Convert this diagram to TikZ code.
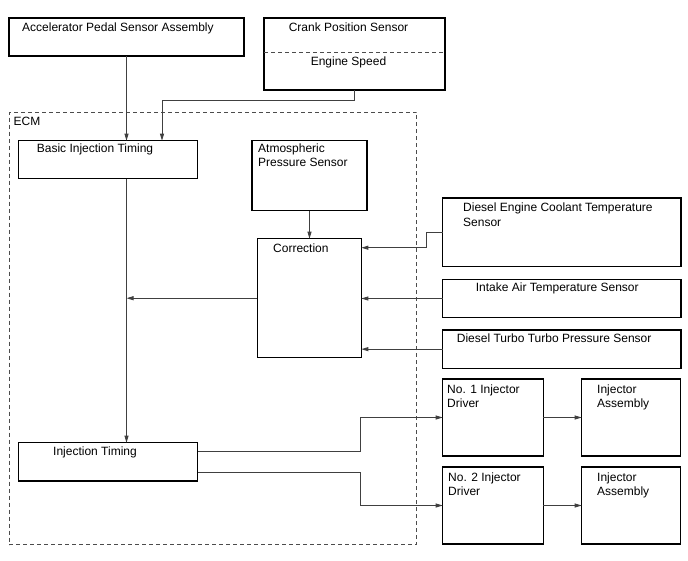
\documentclass[tikz,border=0pt]{standalone}
\usepackage{fontspec}
\setmainfont{Liberation Sans}
\usetikzlibrary{arrows.meta,calc}
\begin{document}
\begin{tikzpicture}[x=1pt,y=-1pt,
  box/.style={draw=black, line width=1.2pt, inner sep=0pt, outer sep=0pt, anchor=north west, fill=white},
  txt/.style={anchor=base west, inner sep=0pt, font=\fontsize{12}{14}\selectfont},
  ctxt/.style={anchor=base, inner sep=0pt, font=\fontsize{12}{14}\selectfont},
  arr/.style={draw=black!75, line width=0.9pt, -{Triangle[length=7pt,width=4pt]}},
  ecmline/.style={draw=black!70, line width=0.8pt, dash pattern=on 4pt off 3pt}]
\useasboundingbox (0,0) rectangle (688,560);
% ECM boundary
\node[ecmline, inner sep=0pt, outer sep=0pt, anchor=north west, minimum width=407.5pt, minimum height=432.5pt] (ecm) at (9,112) {};
\node[txt] (tecm) at (13.5,125.3) {ECM};
% boxes
\node[box, minimum width=235pt, minimum height=38pt] (acc) at (9,18) {};
\node[box, minimum width=181pt, minimum height=72pt] (crank) at (264,18) {};
\node[box, minimum width=179.5pt, minimum height=38pt] (basic) at (18.3,140.7) {};
\node[box, minimum width=115pt, minimum height=70pt] (atm) at (252,140.7) {};
\node[box, minimum width=104pt, minimum height=119pt] (corr) at (257.3,238.7) {};
\node[box, minimum width=179.5pt, minimum height=38.3pt] (it) at (18.3,442.7) {};
\node[box, minimum width=238.3pt, minimum height=68.7pt] (cool) at (442.7,198) {};
\node[box, minimum width=238.3pt, minimum height=37.6pt] (intake) at (442.7,279.7) {};
\node[box, minimum width=238.3pt, minimum height=38.3pt] (turbo) at (442.7,330) {};
\node[box, minimum width=100.6pt, minimum height=77pt] (drv1) at (442.7,379) {};
\node[box, minimum width=99pt, minimum height=77pt] (asm1) at (581.7,379) {};
\node[box, minimum width=100.6pt, minimum height=77pt] (drv2) at (442.7,467) {};
\node[box, minimum width=99pt, minimum height=77pt] (asm2) at (581.7,467) {};
% dashed divider in crank box
\draw[ecmline] ($(crank.north west)+(0,34)$) -- ($(crank.north east)+(0,34)$);
% texts
\node[txt] (tacc) at (22,31.6) {Accelerator Pedal Sensor Assembly};
\node[ctxt] (tcrank) at (348.5,31.6) {Crank Position Sensor};
\node[ctxt] (tspeed) at (348.5,65.6) {Engine Speed};
\node[txt] (tbasic) at (36.7,152.6) {Basic Injection Timing};
\node[txt] (tatm1) at (258,152.6) {Atmospheric};
\node[txt] (tatm2) at (258,166.6) {Pressure Sensor};
\node[txt] (tcorr) at (273,252.6) {Correction};
\node[txt] (tit) at (53,455.3) {Injection Timing};
\node[txt] (tcool1) at (463,211.6) {Diesel Engine Coolant Temperature};
\node[txt] (tcool2) at (463,226.6) {Sensor};
\node[txt] (tintake) at (475.7,291.6) {Intake Air Temperature Sensor};
\node[txt] (tturbo) at (456.7,342.6) {Diesel Turbo Turbo Pressure Sensor};
\node[txt] (tdrv1a) at (447,393.6) {No. 1 Injector};
\node[txt] (tdrv1b) at (447,407.6) {Driver};
\node[txt] (tasm1a) at (597,393.6) {Injector};
\node[txt] (tasm1b) at (597,407.6) {Assembly};
\node[txt] (tdrv2a) at (448,481.6) {No. 2 Injector};
\node[txt] (tdrv2b) at (448,495.6) {Driver};
\node[txt] (tasm2a) at (597,481) {Injector};
\node[txt] (tasm2b) at (597,495) {Assembly};
% connectors
\coordinate (bend) at (360.7,0);
\coordinate (cin) at (162,0);
\draw[arr] (acc.south) -- (acc.south |- basic.north);
\draw[arr] (crank.south) -- ++(0,10) -| (cin |- basic.north);
\draw[arr] (atm.south) -- (atm.south |- corr.north);
\draw[arr] (corr.west) -- (corr.west -| acc.south);
\draw[arr] (basic.south -| acc.south) -- (it.north -| acc.south);
\draw[arr] (cool.west) -- ++(-16,0) |- ($(corr.north east)+(0,9)$);
\draw[arr] (intake.west) -- (intake.west -| corr.east);
\draw[arr] (turbo.west) -- (turbo.west -| corr.east);
\draw[arr] ($(it.north east)+(0,8.3)$) -- ($(it.north east -| bend)+(0,8.3)$) |- (drv1.west);
\draw[arr] ($(it.south east)+(0,-8.3)$) -- ($(it.south east -| bend)+(0,-8.3)$) |- (drv2.west);
\draw[arr] (drv1.east) -- (asm1.west);
\draw[arr] (drv2.east) -- (asm2.west);
\end{tikzpicture}
\end{document}
